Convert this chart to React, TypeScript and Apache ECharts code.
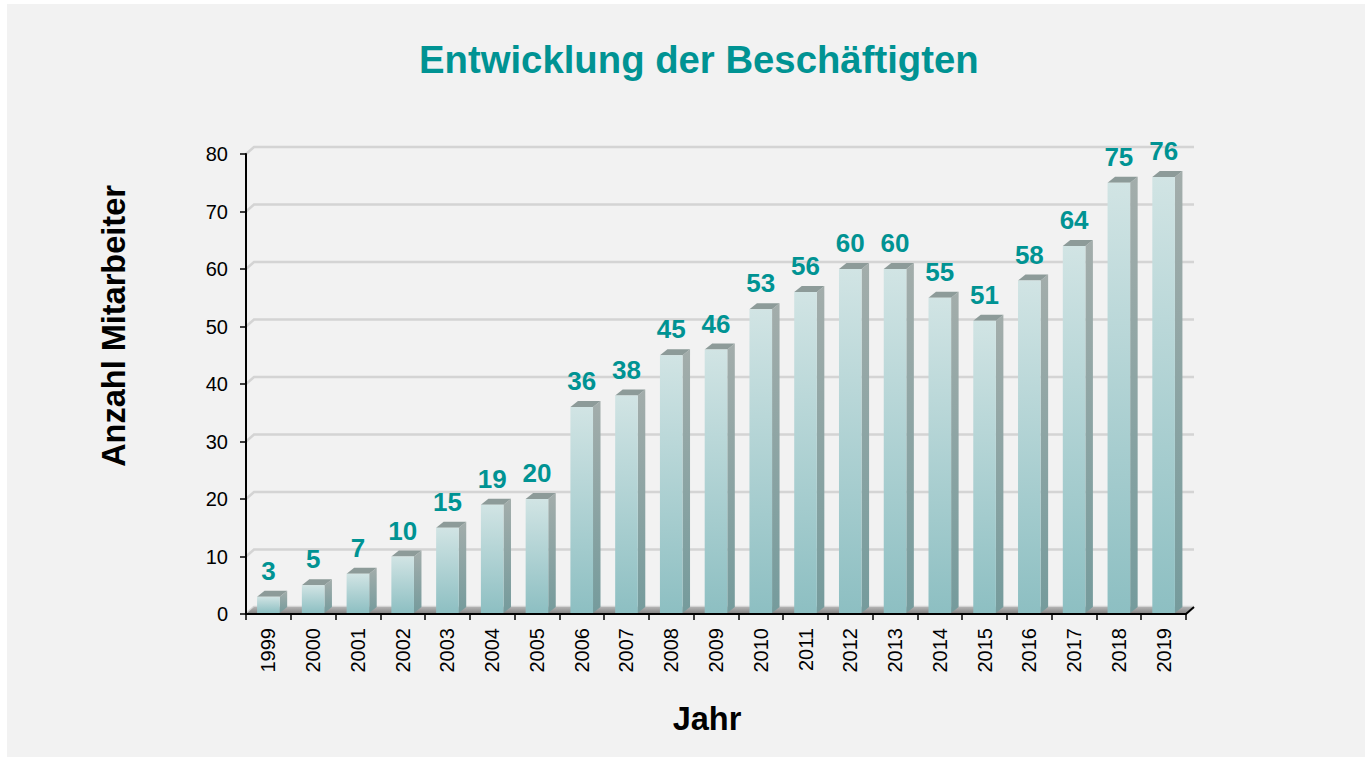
import React, { useEffect, useRef } from "react";
import * as echarts from "echarts";

const years = ["1999","2000","2001","2002","2003","2004","2005","2006","2007","2008","2009","2010","2011","2012","2013","2014","2015","2016","2017","2018","2019"];
const employees = [3,5,7,10,15,19,20,36,38,45,46,53,56,60,60,55,51,58,64,75,76];
const yTicks = [0,10,20,30,40,50,60,70,80];

const FONT = "'Liberation Sans', Arial, sans-serif";
const TEAL = "#009393";
const WALL_DX = 8;
const WALL_DY = 7;
const BAR_DX = 7.5;
const BAR_DY = 6;

export default function App() {
  const ref = useRef<HTMLDivElement>(null);
  useEffect(() => {
    if (!ref.current) return;
    const chart = echarts.init(ref.current, null, { renderer: "svg" });
    const option: any = {
      animation: false,
      backgroundColor: "#ffffff",
      title: {
        text: "Entwicklung der Beschäftigten",
        left: 414,
        top: 35,
        textStyle: { color: TEAL, fontSize: 38.3, fontWeight: "bold", fontFamily: FONT },
      },
      graphic: [
        { type: "rect", z: -10, silent: true, shape: { x: 7, y: 4, width: 1358, height: 753 }, style: { fill: "#f2f2f2" } },
        { type: "text", x: 114, y: 326, rotation: Math.PI / 2, style: { text: "Anzahl Mitarbeiter", fill: "#000", font: `bold 32.5px ${FONT}`, textAlign: "center", textVerticalAlign: "middle" } },
        { type: "text", x: 707, y: 719, style: { text: "Jahr", fill: "#000", font: `bold 32.5px ${FONT}`, textAlign: "center", textVerticalAlign: "middle" } },
      ],
      grid: { left: 246, right: 184, top: 154, bottom: 146, containLabel: false },
      xAxis: {
        type: "category",
        data: years,
        z: 10,
        axisLine: { show: true, lineStyle: { color: "#000", width: 2 } },
        axisTick: { show: true, interval: 0, length: 6, lineStyle: { color: "#000", width: 1.5 } },
        axisLabel: { rotate: 90, interval: 0, margin: 14, fontSize: 20, color: "#000", fontFamily: FONT },
        splitLine: { show: false },
      },
      yAxis: {
        type: "value",
        min: 0,
        max: 80,
        interval: 10,
        z: 10,
        axisLine: { show: true, lineStyle: { color: "#000", width: 2 } },
        axisTick: { show: true, length: 6, lineStyle: { color: "#000", width: 1.5 } },
        axisLabel: { margin: 18, fontSize: 20, color: "#000", fontFamily: FONT },
        splitLine: { show: false },
      },
      series: [
        {
          type: "custom",
          name: "grid",
          silent: true,
          z: 1,
          data: yTicks.map((v) => [0, v]),
          renderItem: (params: any, api: any) => {
            const cs = params.coordSys;
            const y = api.coord([0, api.value(1)])[1];
            const x0 = cs.x;
            const x1 = cs.x + cs.width;
            return {
              type: "polyline",
              shape: { points: [[x0, y], [x0 + WALL_DX, y - WALL_DY], [x1 + WALL_DX, y - WALL_DY]] },
              style: { stroke: "#d4d4d4", lineWidth: 2.5, fill: null },
            };
          },
        },
        {
          type: "custom",
          name: "floor",
          silent: true,
          z: 2,
          data: [[0, 0]],
          renderItem: (params: any, api: any) => {
            const cs = params.coordSys;
            const y = api.coord([0, 0])[1];
            const x0 = cs.x;
            const x1 = cs.x + cs.width;
            return {
              type: "group",
              children: [
                {
                  type: "polygon",
                  shape: { points: [[x0, y], [x0 + WALL_DX, y - WALL_DY], [x1 + WALL_DX, y - WALL_DY], [x1, y]] },
                  style: {
                    fill: new echarts.graphic.LinearGradient(0, 0, 0, 1, [
                      { offset: 0, color: "#b4b4b4" },
                      { offset: 1, color: "#7f7f7f" },
                    ]),
                  },
                },
                { type: "line", shape: { x1: x1, y1: y, x2: x1 + WALL_DX, y2: y - WALL_DY }, style: { stroke: "#000", lineWidth: 2 } },
              ],
            };
          },
        },
        {
          type: "custom",
          name: "Mitarbeiter",
          z: 3,
          data: employees.map((v, i) => [i, v]),
          renderItem: (params: any, api: any) => {
            const idx = api.value(0);
            const v = api.value(1);
            const top = api.coord([idx, v]);
            const base = api.coord([idx, 0]);
            const bw = api.size([1, 0])[0];
            const w = bw * 0.505;
            const cx = top[0];
            const xL = cx - w / 2;
            const xR = cx + w / 2;
            const yT = top[1];
            const yB = base[1] - 1;
            return {
              type: "group",
              children: [
                {
                  type: "polygon",
                  shape: { points: [[xR, yT], [xR + BAR_DX, yT - BAR_DY], [xR + BAR_DX, yB - BAR_DY], [xR, yB]] },
                  style: {
                    fill: new echarts.graphic.LinearGradient(0, 0, 0, 1, [
                      { offset: 0, color: "#a3adab" },
                      { offset: 1, color: "#759b9c" },
                    ]),
                  },
                },
                {
                  type: "polygon",
                  shape: { points: [[xL, yT], [xL + BAR_DX, yT - BAR_DY], [xR + BAR_DX, yT - BAR_DY], [xR, yT]] },
                  style: { fill: "#8d9b99" },
                },
                {
                  type: "rect",
                  shape: { x: xL, y: yT, width: w, height: yB - yT },
                  style: {
                    fill: new echarts.graphic.LinearGradient(0, 0, 0, 1, [
                      { offset: 0, color: "#d1e4e4" },
                      { offset: 1, color: "#8dbfc2" },
                    ]),
                  },
                },
                {
                  type: "text",
                  x: cx,
                  y: yT - 26,
                  style: {
                    text: String(v),
                    fill: TEAL,
                    font: `bold 26px ${FONT}`,
                    textAlign: "center",
                    textVerticalAlign: "middle",
                  },
                },
              ],
            };
          },
        },
      ],
    };
    chart.setOption(option);
    return () => chart.dispose();
  }, []);
  return <div ref={ref} style={{ position: "absolute", left: 0, top: 0, width: 1370, height: 760 }} />;
}
